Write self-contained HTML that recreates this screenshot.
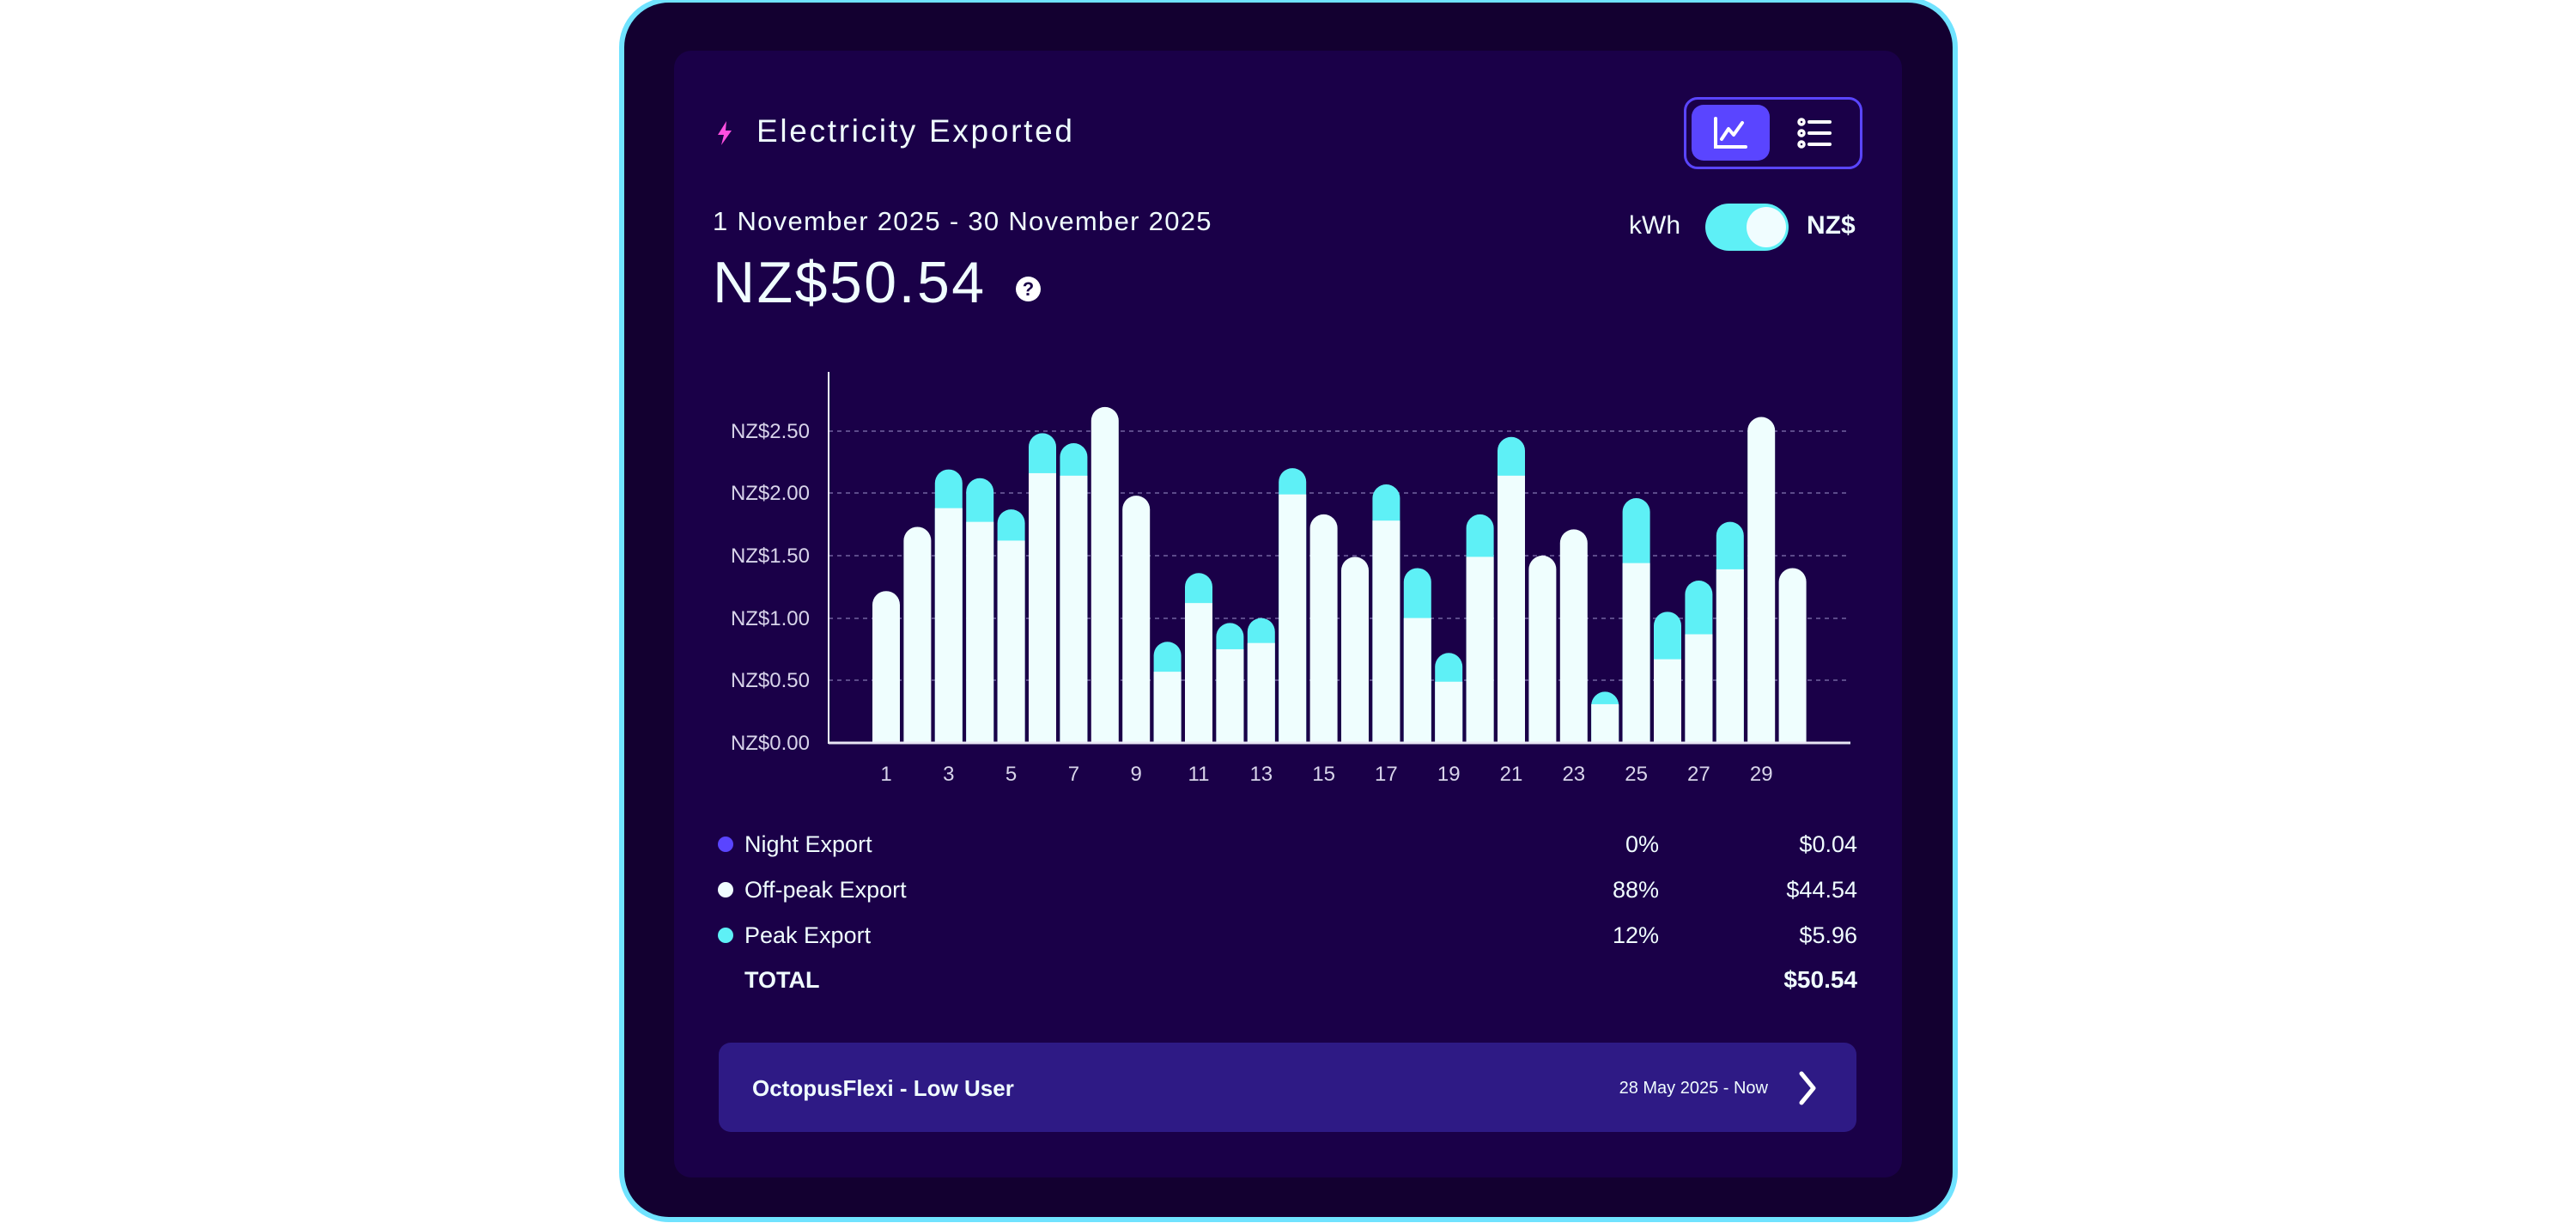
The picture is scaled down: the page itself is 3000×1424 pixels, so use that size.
<!DOCTYPE html>
<html><head><meta charset="utf-8"><style>
body{margin:0;width:3000px;height:1424px;background:#fff;position:relative;overflow:hidden;font-family:"Liberation Sans",sans-serif;color:#f0fdff}
.a{position:absolute;white-space:nowrap}
</style></head><body>
<div class="a" style="left:721px;top:-3px;width:1547px;height:1414px;border:6px solid #70e3ff;border-radius:58px;background:#130030"></div>
<div class="a" style="left:785px;top:59px;width:1430px;height:1312px;border-radius:20px;background:#1a0048"></div>
<svg class="a" style="left:832px;top:140px" width="24" height="30" viewBox="0 0 24 30"><path d="M14 1 L4 17 L11 17 L8 29 L20 12 L13 12 Z" fill="#ff4fe0"/></svg>
<div class="a" style="left:881px;top:131px;font-size:37px;line-height:44px;letter-spacing:2.7px">Electricity Exported</div>
<div class="a" style="left:1961px;top:113px;width:202px;height:78px;border:3px solid #5a45ff;border-radius:16px"></div>
<div class="a" style="left:1970px;top:122px;width:91px;height:65px;background:#5a45ff;border-radius:14px"></div>
<svg class="a" style="left:1995px;top:135px" width="42" height="40" viewBox="0 0 42 40"><path d="M3 3 V36 H38" stroke="#fff" stroke-width="4" fill="none" stroke-linecap="round"/><path d="M10 27 L18 15 L24 22 L34 8" stroke="#fff" stroke-width="4" fill="none" stroke-linecap="round" stroke-linejoin="round"/></svg>
<svg class="a" style="left:2093px;top:137px" width="42" height="36" viewBox="0 0 42 36"><g fill="none" stroke="#fff" stroke-width="3.5"><circle cx="5" cy="5" r="3"/><circle cx="5" cy="18" r="3"/><circle cx="5" cy="31" r="3"/></g><g stroke="#fff" stroke-width="4" stroke-linecap="round"><path d="M14 5H38M14 18H38M14 31H38"/></g></svg>
<div class="a" style="left:830px;top:239px;font-size:31px;line-height:38px;letter-spacing:1.3px">1 November 2025 - 30 November 2025</div>
<div class="a" style="left:1897px;top:244px;font-size:30px;line-height:38px;font-weight:300">kWh</div>
<div class="a" style="left:1986px;top:237px;width:97px;height:55px;background:#5ef0f6;border-radius:28px"></div>
<div class="a" style="left:2034px;top:241px;width:46px;height:47px;background:#f0fdff;border-radius:50%"></div>
<div class="a" style="left:2104px;top:244px;font-size:30px;line-height:38px;font-weight:bold">NZ$</div>
<div class="a" style="left:830px;top:290px;font-size:68px;line-height:78px;letter-spacing:2.5px">NZ$50.54</div>
<div class="a" style="left:1183px;top:322px;width:29px;height:29px;border-radius:50%;background:#fff;color:#1a0048;font-size:22px;font-weight:bold;text-align:center;line-height:29px">?</div>
<svg class="a" style="left:0;top:0" width="3000" height="1424">
<g stroke="#5c4a8a" stroke-width="2" stroke-dasharray="5 5">
<line x1="965" x2="2155" y1="502" y2="502"/><line x1="965" x2="2155" y1="574" y2="574"/><line x1="965" x2="2155" y1="647" y2="647"/><line x1="965" x2="2155" y1="720" y2="720"/><line x1="965" x2="2155" y1="792" y2="792"/>
</g>
<g font-family="Liberation Sans" font-size="24" fill="#d8d4ea" text-anchor="end" font-weight="300">
<text x="943" y="510">NZ$2.50</text><text x="943" y="582">NZ$2.00</text><text x="943" y="655">NZ$1.50</text><text x="943" y="728">NZ$1.00</text><text x="943" y="800">NZ$0.50</text><text x="943" y="873">NZ$0.00</text>
</g>
<g id="bars"></g>
<line x1="965" y1="433" x2="965" y2="866" stroke="#f0fdff" stroke-width="2"/>
<line x1="965" y1="865" x2="2155" y2="865" stroke="#e8e6f4" stroke-width="3"/>
<g id="xl" font-family="Liberation Sans" font-size="24" fill="#d8d4ea" text-anchor="middle" font-weight="300"></g>
</svg>
<div class="a" style="left:836px;top:974px;width:18px;height:18px;border-radius:50%;background:#5a45ff"></div>
<div class="a" style="left:836px;top:1027px;width:18px;height:18px;border-radius:50%;background:#f0fdff"></div>
<div class="a" style="left:836px;top:1080px;width:18px;height:18px;border-radius:50%;background:#5ef0f6"></div>
<div class="a" style="left:867px;top:968px;font-size:27px;line-height:30px">Night Export</div>
<div class="a" style="left:867px;top:1021px;font-size:27px;line-height:30px">Off-peak Export</div>
<div class="a" style="left:867px;top:1074px;font-size:27px;line-height:30px">Peak Export</div>
<div class="a" style="left:867px;top:1126px;font-size:27px;line-height:30px;font-weight:bold">TOTAL</div>
<div class="a" style="left:1832px;width:100px;text-align:right;top:968px;font-size:27px;line-height:30px">0%</div>
<div class="a" style="left:1832px;width:100px;text-align:right;top:1021px;font-size:27px;line-height:30px">88%</div>
<div class="a" style="left:1832px;width:100px;text-align:right;top:1074px;font-size:27px;line-height:30px">12%</div>
<div class="a" style="left:2000px;width:163px;text-align:right;top:968px;font-size:27px;line-height:30px">$0.04</div>
<div class="a" style="left:2000px;width:163px;text-align:right;top:1021px;font-size:27px;line-height:30px">$44.54</div>
<div class="a" style="left:2000px;width:163px;text-align:right;top:1074px;font-size:27px;line-height:30px">$5.96</div>
<div class="a" style="left:2000px;width:163px;text-align:right;top:1126px;font-size:28px;line-height:30px;font-weight:bold">$50.54</div>
<div class="a" style="left:837px;top:1214px;width:1325px;height:104px;border-radius:14px;background:#2e1a85"></div>
<div class="a" style="left:876px;top:1251px;font-size:26px;line-height:32px;font-weight:bold">OctopusFlexi - Low User</div>
<div class="a" style="left:1800px;width:259px;text-align:right;top:1254px;font-size:20px;line-height:26px">28 May 2025 - Now</div>
<svg class="a" style="left:2090px;top:1246px" width="30" height="42" viewBox="0 0 30 42"><path d="M8 4 L22 21 L8 38" stroke="#fff" stroke-width="5" fill="none" stroke-linecap="round" stroke-linejoin="round"/></svg>
<script>
var d=[[1.216,1.216],[1.73,1.73],[2.19,1.88],[2.12,1.77],[1.87,1.62],[2.48,2.16],[2.40,2.14],[2.69,2.69],[1.98,1.98],[0.81,0.57],[1.36,1.12],[0.96,0.75],[1.00,0.80],[2.20,1.99],[1.83,1.83],[1.49,1.49],[2.07,1.78],[1.40,1.00],[0.72,0.49],[1.83,1.49],[2.45,2.14],[1.50,1.50],[1.71,1.71],[0.41,0.31],[1.96,1.44],[1.05,0.67],[1.30,0.87],[1.77,1.39],[2.61,2.61],[1.40,1.40]];
var s='',xl='',b=865,k=145.4,w=32,r=16;
d.forEach(function(v,i){var x=1016+i*36.4;var t=b-v[0]*k,o=b-v[1]*k;
var p='M'+x+' '+b+'V'+(t+r)+'A'+r+' '+r+' 0 0 1 '+(x+w)+' '+(t+r)+'V'+b+'Z';
if(v[0]>v[1]){s+='<path d="'+p+'" fill="#5ef0f6"/>';s+='<rect x="'+x+'" y="'+o+'" width="'+w+'" height="'+(b-o)+'" fill="#effefe"/>';}
else s+='<path d="'+p+'" fill="#effefe"/>';
if(i%2==0)xl+='<text x="'+(x+w/2)+'" y="909">'+(i+1)+'</text>';});
document.getElementById('bars').innerHTML=s;document.getElementById('xl').innerHTML=xl;
</script>
</body></html>
